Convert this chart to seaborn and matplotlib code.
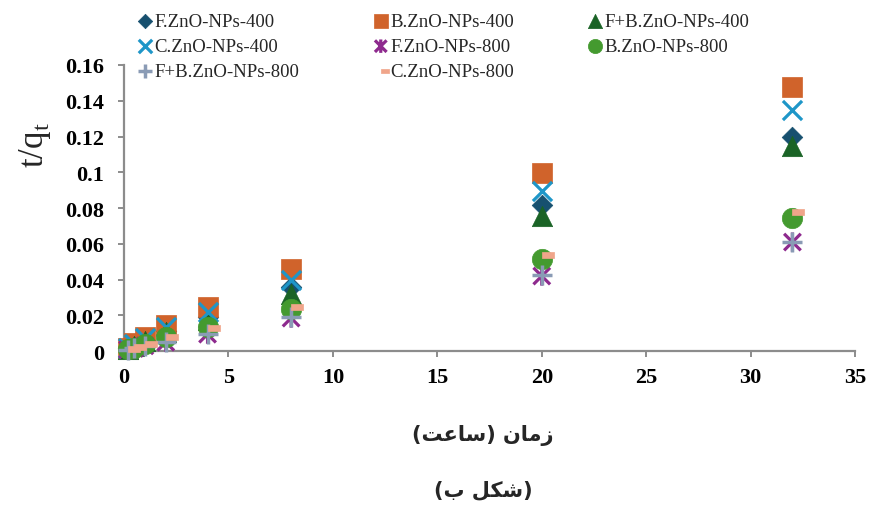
import numpy as np
import pandas as pd
import matplotlib
matplotlib.use("Agg")
import matplotlib.pyplot as plt
from matplotlib.path import Path
import seaborn as sns

# ---------------- data ----------------
time_h = [0.17, 0.5, 1, 2, 4, 8, 20, 32]
F400 = [0.0015, 0.0030, 0.0062, 0.0115, 0.0190, 0.0360, 0.0820, 0.1195]
B400 = [0.0020, 0.0045, 0.0078, 0.0148, 0.0246, 0.0460, 0.0996, 0.1475]
FB400 = [0.0014, 0.0028, 0.0058, 0.0110, 0.0175, 0.0320, 0.0755, 0.1145]
C400 = [0.0018, 0.0040, 0.0072, 0.0135, 0.0218, 0.0400, 0.0895, 0.1350]
F800 = [0.0008, 0.0015, 0.0030, 0.0050, 0.0095, 0.0185, 0.0420, 0.0610]
B800 = [0.0010, 0.0020, 0.0040, 0.0078, 0.0134, 0.0235, 0.0515, 0.0742]
FB800 = [0.0008, 0.0016, 0.0031, 0.0052, 0.0098, 0.0190, 0.0425, 0.0612]
C800 = [0.0011, 0.0022, 0.0042, 0.0080, 0.0128, 0.0245, 0.0537, 0.0778]

series_names = ["F.ZnO-NPs-400", "B.ZnO-NPs-400", "F+B.ZnO-NPs-400",
                "C.ZnO-NPs-400", "F.ZnO-NPs-800", "B.ZnO-NPs-800",
                "F+B.ZnO-NPs-800", "C.ZnO-NPs-800"]
series_values = [F400, B400, FB400, C400, F800, B800, FB800, C800]

x_ticks = [0, 5, 10, 15, 20, 25, 30, 35]
y_ticks = [0, 0.02, 0.04, 0.06, 0.08, 0.1, 0.12, 0.14, 0.16]
y_tick_labels = ["0", "0.02", "0.04", "0.06", "0.08", "0.1", "0.12", "0.14", "0.16"]

# Persian labels (pre-shaped presentation forms, visual order)
xlabel_fa = "(\uFE96\uFECB\uFE8E\uFEB3) \uFEE5\uFE8E\uFEE3\uFEAF"   # زمان (ساعت)
caption_fa = "(\uFE8F \uFEDE\uFB91\uFEB7)"                          # (شکل ب)

# ---------------- styles ----------------
asterisk = Path([(-1, -1), (1, 1), (-1, 1), (1, -1), (0, -1.15), (0, 1.15)],
                [Path.MOVETO, Path.LINETO, Path.MOVETO, Path.LINETO,
                 Path.MOVETO, Path.LINETO])
dash = Path([(0, -0.25), (1, -0.25), (1, 0.25), (0, 0.25), (0, -0.25)],
            [Path.MOVETO, Path.LINETO, Path.LINETO, Path.LINETO, Path.CLOSEPOLY])

styles = [
    dict(marker="D", color="#17506F", s=110, filled=True),
    dict(marker="s", color="#D0632B", s=215, filled=True),
    dict(marker="^", color="#1A6326", s=215, filled=True),
    dict(marker="x", color="#1E96C8", s=190, filled=False, lw=2.3),
    dict(marker=asterisk, color="#8E2A8E", s=190, filled=False, lw=2.3),
    dict(marker="o", color="#449A2F", s=215, filled=True),
    dict(marker="+", color="#8A9BB5", s=200, filled=False, lw=2.5),
    dict(marker=dash, color="#F0A58A", s=300, filled=True),
]

sns.set_theme(style="white")
plt.rcParams["font.family"] = ["Liberation Serif", "DejaVu Sans"]
plt.rcParams["mathtext.fontset"] = "custom"
plt.rcParams["mathtext.rm"] = "Liberation Serif"

fig = plt.figure(figsize=(8.69, 5.06), dpi=100)
ax = fig.add_axes([0.1427, 0.304, 0.984 - 0.1427, 0.8696 - 0.304])

for name, vals, st in zip(series_names, series_values, styles):
    df = pd.DataFrame({"t": time_h, "v": vals})
    kw = dict(x="t", y="v", data=df, ax=ax, marker=st["marker"], s=st["s"],
              color=st["color"], label=name, clip_on=False, zorder=3)
    if st["filled"]:
        kw.update(edgecolor=st["color"], linewidth=0.5)
    else:
        kw.update(linewidth=st.get("lw", 2))
        if not isinstance(st["marker"], str):
            kw.update(edgecolor=st["color"], facecolor="none")
    sns.scatterplot(**kw)

ax.set_xlim(0, 35)
ax.set_ylim(0, 0.16)
ax.set_xticks(x_ticks)
ax.set_xticklabels([str(v) for v in x_ticks])
ax.set_yticks(y_ticks)
ax.set_yticklabels(y_tick_labels)
for lab in ax.get_xticklabels() + ax.get_yticklabels():
    lab.set_fontweight("bold")
    lab.set_fontsize(16)
ax.set_xlabel("")
ax.set_ylabel("")

for side in ["top", "right"]:
    ax.spines[side].set_visible(False)
for side in ["left", "bottom"]:
    ax.spines[side].set_color("#8C8C8C")
    ax.spines[side].set_linewidth(1.6)
ax.tick_params(axis="both", which="major", direction="out", length=4.5, width=1.4,
               color="#8C8C8C", labelcolor="black")
ax.tick_params(axis="x", bottom=True, pad=7)
ax.tick_params(axis="y", left=True, pad=10)

# legend: row-wise order -> reorder for column fill
h, l = ax.get_legend_handles_labels()
order = [0, 3, 6, 1, 4, 7, 2, 5]
leg = ax.legend([h[i] for i in order], [l[i] for i in order], ncol=3,
                frameon=False, loc="upper left", bbox_to_anchor=(0.003, 1.208),
                fontsize=13.5, markerscale=0.7, handletextpad=-0.1,
                columnspacing=3.75, labelspacing=0.42, handlelength=1.2,
                borderaxespad=0)

fig.text(0.040, 0.713, "t/q$_{\\mathregular{t}}$", rotation=90, ha="center",
         va="center", fontsize=25, family=["Liberation Serif"])
fig.text(0.556, 0.140, xlabel_fa, ha="center", va="center", fontsize=15,
         fontweight="bold", family=["DejaVu Sans"])
fig.text(0.556, 0.032, caption_fa, ha="center", va="center", fontsize=15,
         fontweight="bold", family=["DejaVu Sans"])

fig.savefig("out.png", dpi=100)
